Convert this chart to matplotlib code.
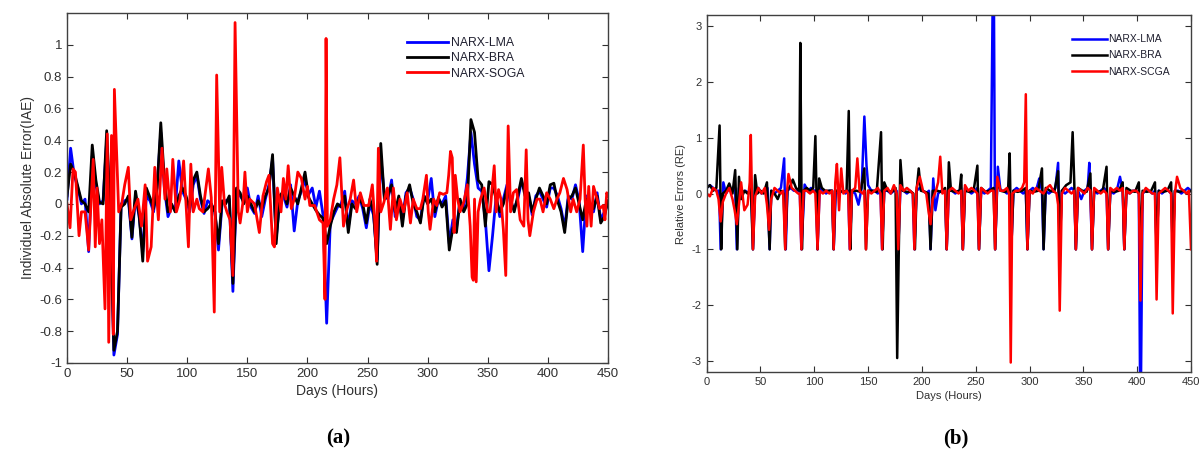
import numpy as np
import matplotlib.pyplot as plt

plt.rcParams['font.family'] = ['Liberation Sans', 'DejaVu Sans']
plt.rcParams['axes.unicode_minus'] = False

# (a) individual absolute error, LMA and BRA sampled every 3 days
lma_a = [0.03, 0.35, 0.18, 0.1, 0.0, 0.03, -0.3, 0.3, 0.12, 0.0,
         0.02, 0.4, -0.05, -0.95, -0.82, 0.0, 0.02, 0.03, -0.22, 0.05,
         -0.08, -0.3, 0.05, 0.02, -0.05, 0.12, 0.45, 0.1, -0.08, -0.02,
         -0.03, 0.27, 0.08, 0.03, -0.05, 0.12, 0.18, 0.03, -0.06, 0.02,
         0.0, -0.05, -0.29, 0.0, 0.02, 0.03, -0.55, 0.08, 0.05, 0.02,
         0.1, -0.02, -0.06, 0.05, -0.08, 0.03, 0.12, 0.28, -0.22, 0.03,
         0.05, -0.02, 0.12, -0.17, 0.02, 0.08, 0.15, 0.06, 0.1, -0.02,
         0.08, -0.07, -0.75, -0.12, -0.07, -0.02, 0.0, 0.08, -0.15, 0.02,
         0.0, 0.05, -0.03, -0.15, 0.0, -0.07, -0.35, 0.3, 0.05, 0.03,
         0.15, -0.08, 0.03, -0.1, 0.07, 0.1, 0.03, -0.08, -0.1, 0.05,
         0.02, 0.16, -0.08, 0.03, 0.0, 0.05, -0.25, -0.1, -0.15, 0.02,
         -0.03, 0.16, 0.45, 0.25, 0.1, 0.08, -0.1, -0.42, -0.2, 0.05,
         -0.08, 0.03, 0.12, 0.0, -0.03, 0.03, 0.14, 0.08, 0.05, -0.07,
         0.05, 0.08, 0.03, -0.02, 0.1, 0.1, 0.05, -0.03, -0.15, 0.05,
         0.03, 0.12, 0.02, -0.3, 0.05, -0.02, -0.05, 0.07, -0.1, -0.05,
         0.0]
bra_a = [0.05, 0.25, 0.2, 0.11, 0.02, 0.0, -0.05, 0.37, 0.15, 0.01,
         0.0, 0.46, -0.05, -0.92, -0.8, -0.02, 0.0, 0.05, -0.21, 0.08,
         -0.07, -0.36, 0.1, 0.04, -0.03, 0.1, 0.51, 0.15, -0.05, 0.0,
         -0.05, 0.05, 0.1, 0.05, -0.03, 0.15, 0.2, 0.05, -0.05, -0.03,
         0.0, -0.05, -0.25, 0.02, 0.0, 0.05, -0.5, 0.1, 0.07, 0.0,
         0.05, 0.0, -0.05, 0.02, -0.03, 0.05, 0.1, 0.31, -0.25, 0.05,
         0.08, 0.0, 0.1, 0.05, 0.0, 0.1, 0.2, 0.04, 0.0, -0.04,
         -0.07, -0.09, -0.25, -0.14, -0.05, 0.0, -0.02, 0.05, -0.18, 0.0,
         -0.03, 0.03, 0.0, -0.12, 0.03, -0.05, -0.38, 0.38, 0.03, 0.05,
         0.12, -0.05, 0.05, -0.14, 0.05, 0.12, 0.0, -0.05, -0.12, 0.05,
         0.0, 0.03, -0.05, 0.04, -0.02, 0.02, -0.29, -0.15, -0.18, 0.03,
         -0.05, 0.0, 0.53, 0.45, 0.15, 0.12, -0.14, 0.14, 0.12, 0.03,
         -0.05, 0.0, 0.1, 0.03, -0.05, 0.05, 0.16, 0.05, 0.07, -0.05,
         0.03, 0.1, 0.05, 0.0, 0.12, 0.13, 0.02, -0.05, -0.18, 0.03,
         0.05, 0.1, 0.0, -0.1, 0.03, 0.0, -0.03, 0.05, -0.12, -0.08,
         0.02]
# SOGA as (day, error) pairs
soga_a = [(0, 0.0), (2.5, -0.15), (5, 0.22), (7, 0.2), (10, -0.2), (12, -0.05),
          (15, -0.05), (18, -0.29), (21.8, 0.28), (23.5, -0.27), (25, 0.1),
          (27, -0.25), (29, -0.1), (31.6, -0.66), (33.5, 0.44), (34.7, -0.87),
          (37, 0.43), (38.5, -0.82), (39.4, 0.72), (41, 0.37), (43, -0.05),
          (45.5, 0.0), (48, 0.12), (51, 0.23), (53, -0.1), (56, -0.03), (59, 0.03),
          (62, -0.14), (65, 0.12), (67, -0.36), (70, -0.27), (73, 0.23), (76, -0.1),
          (79, 0.35), (81.5, 0.03), (83, 0.22), (86, -0.05), (88, 0.28), (91, -0.05),
          (94, 0.03), (97, 0.27), (101, -0.27), (103, 0.25), (105, -0.05), (108, 0.03),
          (110, -0.03), (113, -0.05), (117.6, 0.22), (120, 0.04), (122.5, -0.68),
          (124.5, 0.81), (127, -0.05), (128.7, 0.23), (131, 0.0), (133, -0.05),
          (135.6, -0.1), (138, -0.45), (139.8, 1.14), (142.5, -0.05), (144, -0.12),
          (146.7, 0.03), (148, 0.2), (150, -0.05), (152, 0.03), (156, 0.0),
          (160, -0.18), (163, 0.05), (166, 0.14), (168, 0.18), (171, -0.25),
          (172.5, -0.27), (175, 0.1), (178, -0.05), (180, 0.16), (182, 0.03),
          (184, 0.24), (186.6, -0.03), (189, 0.03), (192, 0.2), (195, 0.16),
          (198, 0.03), (200, 0.11), (202, -0.01), (206, -0.01), (210, -0.1),
          (213, -0.12), (214.6, -0.6), (215.5, 1.04), (216.6, -0.14), (219, -0.1),
          (221.8, 0.03), (224.5, 0.12), (227, 0.29), (230, -0.14), (233, -0.03),
          (235.6, 0.03), (238.4, 0.15), (241, -0.05), (244, 0.07), (247, -0.01),
          (251, -0.01), (254, 0.12), (256, -0.1), (257.5, -0.36), (259, 0.35),
          (261, -0.05), (263.6, 0.01), (266.5, 0.1), (269, -0.16), (271.5, 0.1),
          (274, -0.1), (277, 0.03), (280, -0.05), (283, 0.07), (285.7, -0.12),
          (288, 0.03), (291, -0.03), (294, -0.03), (296, 0.03), (299, 0.18),
          (300.5, -0.05), (302, -0.16), (305, 0.03), (307.6, -0.01), (310, 0.07),
          (313, 0.06), (316, 0.07), (317.5, 0.18), (319, 0.33), (320.5, 0.29),
          (322, -0.18), (323, 0.18), (325, 0.03), (327, -0.05), (330, 0.01),
          (333, 0.12), (335.4, -0.14), (337, -0.46), (338, -0.48), (339, 0.03),
          (340.4, -0.49), (342, -0.05), (344, 0.03), (347, 0.1), (350, -0.05),
          (352, -0.05), (353.3, 0.07), (355.4, 0.24), (357, -0.05), (359, 0.09),
          (361, 0.03), (363, -0.16), (365, -0.45), (367, 0.49), (369, -0.05),
          (371.3, 0.07), (374, 0.09), (377, -0.1), (380, -0.14), (382, 0.34),
          (383.5, -0.1), (385, -0.2), (388, -0.05), (391, 0.03), (393.5, 0.03),
          (396, -0.05), (399, 0.07), (402, 0.03), (405, -0.03), (407.5, 0.03),
          (410, 0.07), (413, 0.16), (416, 0.09), (419, -0.05), (421, 0.03),
          (424, -0.05), (426.8, 0.03), (429.5, 0.37), (431, 0.03), (432.5, -0.14),
          (434, 0.11), (436, -0.14), (438, 0.11), (441, 0.03), (443, -0.03),
          (446, -0.01), (447.5, -0.1), (449, 0.07), (450, 0.05)]

# (b) relative errors as (day, error) pairs
lma_b = [(0, 0.1), (3, 0.15), (6, 0.1), (9, 0.05), (11.5, 0.05), (13, -1), (15.5, 0.2),
         (18, 0.0), (21, 0.1), (24, 0.05), (26.5, 0.1), (28, -1), (30, 0.1), (33, 0.0),
         (36, 0.05), (39, 0.0), (41.5, 0.05), (43, -1), (45, 0.05), (48, 0.1), (51, 0.0),
         (54, 0.05), (56.5, 0.1), (58.5, -1), (60, 0.05), (63, 0.0), (66, 0.05), (69, 0.1),
         (72, 0.63), (73.5, -1), (75, 0.05), (78, 0.1), (81, 0.05), (84, 0.05), (86.5, 0.05),
         (88, -1), (91, 0.16), (94, 0.05), (97, 0.1), (100, 0.05), (101.5, 0.05), (103, -1),
         (105, 0.1), (108, 0.05), (111, 0.0), (114, 0.05), (116.5, 0.05), (118, -1),
         (120, 0.05), (123, 0.0), (126, 0.05), (129, 0.0), (131.5, 0.05), (133, -1),
         (135, 0.05), (138, 0.0), (141, -0.2), (144, 0.1), (146.5, 1.38), (148.5, 0.5),
         (150, 0.15), (153, 0.05), (156, 0.05), (159, 0.0), (161.5, 0.05), (163, -1),
         (165, 0.05), (168, 0.05), (171, 0.0), (174, 0.05), (176.5, 0.05), (178, -1),
         (180, 0.1), (183, 0.05), (186, 0.0), (189, 0.05), (191.5, 0.0), (193, -1),
         (195, 0.05), (198, 0.1), (201, 0.05), (204, 0.0), (206.5, 0.05), (208, -1),
         (210.5, 0.27), (212.5, -0.3), (215, 0.0), (218, 0.05), (221.5, 0.05), (223, -1),
         (225, 0.05), (228, 0.05), (231, 0.0), (234, 0.05), (236.5, 0.05), (238, -1),
         (240, 0.1), (243, 0.05), (246, 0.0), (249, 0.05), (251.5, 0.1), (253, -1),
         (255, 0.05), (258, 0.0), (261, 0.05), (264, 0.1), (266.5, 5.0), (268, -1),
         (270.5, 0.48), (273, 0.05), (276, 0.05), (279, 0.0), (281.5, 0.05), (283, -1),
         (285, 0.05), (288, 0.1), (291, 0.05), (294, 0.0), (296.5, 0.05), (298, -1),
         (300, 0.05), (303, 0.1), (306, 0.05), (309, 0.27), (311.5, 0.05), (313, -1),
         (315, 0.05), (318, 0.0), (321, 0.05), (324, 0.1), (326.5, 0.55), (328, -1),
         (330, 0.05), (333, 0.0), (336, 0.05), (339, 0.1), (341.5, 0.05), (343, -1),
         (345, 0.05), (348, -0.1), (351, 0.05), (354, 0.1), (355.5, 0.55), (358, -1),
         (360, 0.05), (363, 0.0), (366, 0.05), (369, 0.1), (371.5, 0.05), (373, -1),
         (375, 0.05), (378, 0.0), (381, 0.05), (384, 0.3), (386.5, 0.05), (388, -1),
         (390, 0.05), (393, 0.0), (396, 0.05), (399, 0.05), (401.5, 0.0), (403, -4.5),
         (405, 0.0), (408, 0.05), (411, 0.05), (414, 0.0), (416.5, 0.05), (418, -1),
         (420, 0.05), (423, 0.0), (426, 0.05), (429, 0.05), (431.5, 0.0), (433, -1),
         (435, 0.05), (438, 0.05), (441, 0.0), (444, 0.05), (447, 0.1), (450, 0.05)]
bra_b = [(0, 0.1), (3, 0.15), (6, 0.05), (9, 0.1), (12, 1.22), (13.5, -1), (15, 0.0),
         (18, 0.05), (21, 0.18), (24, 0.0), (26.5, 0.42), (28.5, -1), (30, 0.3), (32, -0.1),
         (35, 0.05), (38, 0.0), (41, 0.1), (43, -1), (45, 0.33), (47, 0.0), (50, 0.05),
         (53, 0.0), (56, 0.2), (58.5, -1), (60, 0.05), (63, 0.0), (66, -0.1), (69, 0.05),
         (71.5, 0.0), (73, -1), (75, 0.05), (78, 0.15), (80, 0.25), (83, 0.1), (86, 0.05),
         (87, 2.7), (88.5, -1), (90, 0.05), (93, 0.1), (96, 0.05), (99, 0.1), (101, 1.03),
         (103, -1), (104.5, 0.27), (107, 0.1), (110, 0.05), (113, 0.05), (116.5, 0.05),
         (118, -1), (119.5, 0.05), (123, 0.05), (127, 0.03), (130, 0.05), (132, 1.48),
         (133.5, -1), (135, 0.05), (139, 0.05), (143, 0.03), (146.5, 0.45), (148, -1),
         (150, 0.05), (154, 0.05), (158, 0.03), (162, 1.1), (163.5, -1), (165, 0.2),
         (168, 0.05), (172, 0.03), (175.5, 0.1), (177, -2.95), (178.5, -1), (180, 0.6),
         (182, 0.05), (186, 0.03), (190, 0.03), (192, 0.0), (193.5, -1), (195, 0.05),
         (197, 0.45), (199, 0.05), (203, 0.03), (206, 0.0), (208, -1), (210, 0.05),
         (214, 0.05), (218, 0.03), (221.5, 0.1), (223, -1), (225, 0.56), (227, 0.05),
         (231, 0.03), (235, 0.05), (236.5, 0.34), (238, -1), (240, 0.05), (244, 0.03),
         (248, 0.05), (251.5, 0.5), (253, -1), (255, 0.1), (259, 0.03), (263, 0.05),
         (266.5, 0.1), (268, -1), (270, 0.25), (273, 0.05), (277, 0.03), (280, 0.05),
         (281.5, 0.72), (283, -1), (285, 0.05), (289, 0.03), (293, 0.05), (296.5, 0.1),
         (298, -1), (300, 0.05), (304, 0.03), (308, 0.05), (311.5, 0.45), (313, -1),
         (315, 0.1), (319, 0.05), (323, 0.03), (326.5, 0.4), (328, -1), (330, 0.05),
         (334, 0.15), (338, 0.2), (340, 1.1), (341.5, 0.2), (343, -1), (345, 0.1),
         (349, 0.05), (353, 0.03), (356.5, 0.36), (358, -1), (360, 0.05), (364, 0.03),
         (368, 0.05), (371.5, 0.48), (373, -1), (375, 0.05), (379, 0.03), (383, 0.05),
         (386.5, 0.2), (388, -1), (390, 0.1), (394, 0.05), (398, 0.03), (401.5, 0.2),
         (403, -1), (405, 0.05), (409, 0.03), (413, 0.05), (416.5, 0.2), (418, -1),
         (420, 0.05), (424, 0.03), (428, 0.05), (431.5, 0.2), (433, -1), (435, 0.05),
         (439, 0.03), (443, 0.05), (446, 0.0), (450, 0.05)]
scga_b = [(0, 0.0), (3, -0.05), (6, 0.1), (9, 0.05), (11, -0.1), (13, -0.5), (15, -0.15),
          (18, 0.0), (21, 0.1), (24, -0.1), (26, -0.3), (28, -0.55), (30, -0.2), (32, 0.2),
          (35, -0.3), (38, -0.2), (40, 0.2), (41, 1.05), (43, -1), (45, -0.05), (48, 0.1),
          (51, 0.0), (54, 0.1), (56, -0.2), (58, -0.65), (60, -0.1), (63, 0.1), (66, 0.05),
          (69, 0.0), (71, 0.05), (73, -1), (74.5, 0.0), (76, 0.35), (79, 0.1), (82, 0.05),
          (85, 0.0), (86.5, 0.0), (88, -1), (90, 0.05), (93, 0.05), (96, 0.0), (99, 0.05),
          (101, 0.0), (103, -1), (105, 0.05), (108, 0.0), (111, 0.05), (114, 0.0),
          (116.5, 0.05), (118, -1), (119.5, 0.2), (121, 0.53), (123, -0.3), (125, 0.45),
          (127, 0.0), (130, 0.05), (131.5, 0.0), (133, -1), (135, 0.05), (138, 0.1),
          (140, 0.63), (142, 0.05), (145, 0.0), (146.5, 0.05), (148, -1), (150, 0.05),
          (153, 0.0), (156, 0.05), (159, 0.1), (161.5, 0.0), (163, -1), (165, 0.05),
          (168, 0.1), (171, 0.0), (174, 0.15), (176.5, 0.0), (178, -1), (180, 0.15),
          (183, 0.05), (186, 0.1), (189, 0.05), (191.5, 0.0), (193, -1), (195, 0.1),
          (198, 0.3), (201, 0.05), (204, 0.0), (206, -0.3), (208, -0.55), (210, -0.1),
          (213, 0.05), (215, 0.2), (217, 0.66), (219, 0.0), (221.5, 0.05), (223, -1),
          (225, 0.05), (228, 0.1), (231, 0.05), (234, 0.0), (236.5, 0.05), (238, -1),
          (240, 0.15), (243, 0.05), (246, 0.1), (249, 0.05), (251.5, 0.0), (253, -1),
          (255, 0.1), (258, 0.05), (261, 0.0), (264, 0.05), (266.5, 0.05), (268, -1),
          (270, 0.3), (273, 0.05), (276, 0.05), (279, 0.1), (281, 0.0), (282.5, -3.03),
          (284, 0.0), (287, 0.05), (290, 0.05), (293, 0.1), (295, 0.2), (296.5, 1.78),
          (298, -1), (300, 0.05), (303, 0.0), (306, 0.1), (309, 0.05), (313, 0.0),
          (316, 0.1), (319, 0.15), (322, 0.05), (325, 0.0), (326.5, -0.2), (328, -2.1),
          (330, 0.0), (333, 0.1), (336, 0.05), (339, 0.0), (341.5, 0.05), (343, -1),
          (345, 0.1), (348, 0.05), (351, 0.0), (354, 0.1), (356.5, 0.05), (358, -1),
          (360, 0.1), (363, 0.05), (366, 0.0), (369, 0.05), (371.5, 0.0), (373, -1),
          (375, 0.1), (378, 0.05), (381, 0.1), (384, 0.05), (386.5, 0.1), (388, -1),
          (390, 0.05), (393, 0.0), (396, 0.05), (399, 0.05), (401.5, 0.0), (403, -1.92),
          (405, 0.0), (408, 0.1), (411, 0.05), (414, 0.0), (416.5, 0.0), (418, -1.9),
          (420, 0.0), (423, 0.05), (426, 0.1), (429, 0.05), (431.5, 0.0), (433, -2.15),
          (435, 0.0), (437, 0.3), (440, 0.1), (443, 0.05), (446, 0.0), (448, 0.05),
          (450, -1)]

days_a = np.arange(len(bra_a)) * 3


def style_axes(ax, tick_size):
    ax.tick_params(direction='in', top=True, right=True, labelsize=tick_size,
                   colors='#303030', length=4, width=0.8)
    for s in ax.spines.values():
        s.set_color('#404040')
        s.set_linewidth(1.0)
    ax.set_xlim(0, 450)
    ax.set_xticks(range(0, 451, 50))


fig = plt.figure(figsize=(12.01, 4.53), dpi=100)

# (a)
ax1 = fig.add_axes([0.0558, 0.1987, 0.4504, 0.7726])
sx, sy = zip(*soga_a)
ax1.plot(days_a, lma_a, color='#0000ff', lw=2.0, label='NARX-LMA')
ax1.plot(days_a, bra_a, color='black', lw=2.0, label='NARX-BRA')
ax1.plot(sx, sy, color='#ff0000', lw=2.0, label='NARX-SOGA')
style_axes(ax1, 9.5)
ax1.set_ylim(-1, 1.2)
ax1.set_yticks(np.arange(-1, 1.01, 0.2))
ax1.set_yticklabels(['-1', '-0.8', '-0.6', '-0.4', '-0.2', '0', '0.2', '0.4', '0.6', '0.8', '1'])
ax1.set_xlabel('Days (Hours)', fontsize=10, color='#303030', labelpad=3)
ax1.set_ylabel('Individuel Absolute Error(IAE)', fontsize=10, color='#303030', labelpad=3)
ax1.legend(loc='upper left', bbox_to_anchor=(0.62, 0.946), frameon=False, fontsize=8.8,
           handlelength=3.3, handletextpad=0.3, labelspacing=0.28, borderaxespad=0,
           labelcolor='#202030')

# (b)
ax2 = fig.add_axes([0.5884, 0.1788, 0.4033, 0.788])
for series, color, name in [(lma_b, '#0000ff', 'NARX-LMA'),
                            (bra_b, 'black', 'NARX-BRA'),
                            (scga_b, '#ff0000', 'NARX-SCGA')]:
    bx, by = zip(*series)
    ax2.plot(bx, by, color=color, lw=1.8, label=name)
style_axes(ax2, 8)
ax2.set_ylim(-3.2, 3.2)
ax2.set_yticks(range(-3, 4))
ax2.set_xlabel('Days (Hours)', fontsize=8, color='#303030', labelpad=3)
ax2.set_ylabel('Relative Errors (RE)', fontsize=8, color='#303030', labelpad=4)
ax2.legend(loc='upper left', bbox_to_anchor=(0.745, 0.958), frameon=False, fontsize=7.5,
           handlelength=3.4, handletextpad=0.1, labelspacing=0.6, borderaxespad=0,
           labelcolor='#202030')

fig.text(0.2814, 0.033, '(a)', fontsize=15, fontweight='bold', family='Liberation Serif',
         ha='center', va='center')
fig.text(0.796, 0.033, '(b)', fontsize=15, fontweight='bold', family='Liberation Serif',
         ha='center', va='center')

fig.savefig('out.png', dpi=100)
